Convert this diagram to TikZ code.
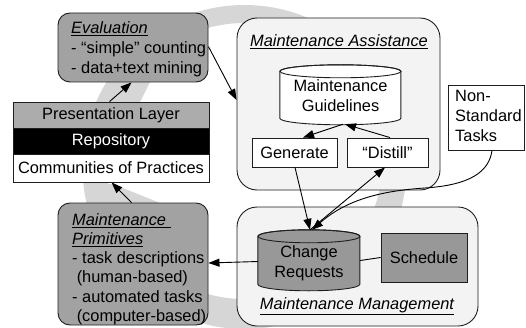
\documentclass[tikz,border=0pt]{standalone}
\usepackage{fontspec}
\setmainfont{Liberation Sans}
\usetikzlibrary{arrows.meta,calc}
\definecolor{ringgray}{RGB}{214,214,214}
\definecolor{panelfill}{RGB}{243,243,243}
\definecolor{darkfill}{RGB}{162,162,162}
\definecolor{layerfill}{RGB}{172,172,172}
\definecolor{storefill}{RGB}{152,152,152}
\definecolor{edge}{RGB}{30,30,30}
\begin{document}
\begin{tikzpicture}[x=1pt,y=1pt,
  txt/.style={font=\fontsize{16.4}{20}\selectfont, inner sep=0pt},
  infobox/.style={draw=edge, line width=0.9pt, fill=darkfill, rounded corners=12pt},
  panel/.style={draw=edge, line width=0.9pt, fill=panelfill, rounded corners=20pt},
  plainbox/.style={draw=edge, line width=0.9pt, fill=white},
  layer/.style={draw=edge, line width=0.9pt, minimum width=196pt, inner sep=0pt, font=\fontsize{16.4}{20}\selectfont},
  arr/.style={line width=0.9pt, -{Triangle[length=11pt,width=8pt]}},
  link/.style={line width=0.9pt}
]
\useasboundingbox (0,0) rectangle (526,327);

% background cycle band
\fill[ringgray, even odd rule] (244.5,160) circle (162) (244.5,166) circle (138);
\fill[ringgray] (97,225) -- (140,225) -- (150,245) -- (110,245) -- cycle;
\fill[ringgray] (87,143) -- (113,143) -- (165,122) -- (86,117) -- cycle;

% evaluation
\node[infobox, minimum width=150pt, minimum height=69pt] (eval) at (133,279.5) {};
\node[txt, anchor=west, align=left] (evaltext) at (71,278)
  {\underline{\itshape Evaluation}\\- “simple” counting\\- data+text mining};

% repository stack
\node[layer, fill=layerfill, minimum height=26pt] (pres) at (111,212) {Presentation Layer};
\node[layer, fill=black, text=white, minimum height=26pt] (repo) at (111,186) {Repository};
\node[layer, fill=white, minimum height=28pt] (comm) at (111,159) {Communities of Practices};

% maintenance primitives
\node[infobox, minimum width=150pt, minimum height=122pt] (prim) at (133,63) {};
\node[txt, anchor=west, align=left, font=\fontsize{16.4}{19.2}\selectfont] (primtext) at (72,58)
  {\underline{\itshape Maintenance\ }\\\underline{\itshape Primitives}\\- task descriptions\\\ (human-based)\\- automated tasks\\\ (computer-based)};

% maintenance assistance
\node[panel, minimum width=203pt, minimum height=172pt] (assist) at (338.5,223) {};
\node[txt] (assisttitle) at (339,285) {\underline{\itshape Maintenance Assistance}};

\node[minimum width=121pt, minimum height=60pt, inner sep=0pt] (guide) at (340.5,232) {};
\filldraw[draw=edge, line width=0.9pt, fill=white]
  (guide.north west) ++(0,-6.5) -- ++(0,-47)
  arc[start angle=180, end angle=360, x radius=60.5, y radius=6.5] -- ++(0,47)
  arc[start angle=0, end angle=180, x radius=60.5, y radius=6.5] -- cycle;
\draw[edge, line width=0.9pt] ($(guide.north)+(0,-6.5)$) ellipse[x radius=60.5, y radius=6.5];
\node[txt, align=center] at (340.5,231) {Maintenance\\Guidelines};

\node[plainbox, txt, minimum width=85pt, minimum height=29pt] (gen) at (294.5,174.5) {Generate};
\node[plainbox, txt, minimum width=81pt, minimum height=29pt] (distill) at (387.5,174.5) {“Distill”};

% non-standard tasks
\node[plainbox, minimum width=76pt, minimum height=65pt] (nonstd) at (486,209.5) {};
\node[txt, anchor=west, align=left] at (455,211) {Non-\\Standard\\Tasks};

% maintenance management
\node[panel, minimum width=241pt, minimum height=119pt] (mgmt) at (357.5,60.5) {};
\node[txt] (mgmttitle) at (357,21) {\underline{\itshape Maintenance Management}};

\node[minimum width=102pt, minimum height=61pt, inner sep=0pt] (cr) at (309,66.5) {};
\filldraw[draw=edge, line width=0.9pt, fill=storefill]
  (cr.north west) ++(0,-6.5) -- ++(0,-48)
  arc[start angle=180, end angle=360, x radius=51, y radius=6.5] -- ++(0,48)
  arc[start angle=0, end angle=180, x radius=51, y radius=6.5] -- cycle;
\draw[edge, line width=0.9pt] ($(cr.north)+(0,-6.5)$) ellipse[x radius=51, y radius=6.5];
\node[txt, align=center] at (309,64) {Change\\Requests};

\node[draw=edge, line width=0.9pt, fill=storefill, txt, minimum width=86pt, minimum height=49pt] (sched) at (424,69.5) {Schedule};

% connectors
\draw[arr] ($(pres.north west)+(97,0)$) -- ($(eval.south west)+(74,0)$);
\draw[arr] ($(prim.north west)+(74,0)$) -- ($(comm.south west)+(99,0)$);
\draw[arr] ($(cr.west)+(0,-1)$) -- ($(prim.east)+(0,1)$);
\draw[arr] ($(eval.north east)+(0,-34)$) -- ($(assist.west)+(0,4)$);
\draw[arr] ($(guide.south)+(2.5,1)$) -- ($(gen.north)+(8.5,0)$);
\draw[arr] ($(distill.north)+(2.5,0)$) -- ($(guide.south)+(4.5,1)$);
\draw[arr] ($(gen.south)+(0.5,0)$) -- ($(cr.north)+(1,0)$);
\draw[arr] ($(cr.north)+(1,0)$) -- ($(distill.south)+(-2.5,0)$);
\draw[arr] ($(nonstd.south)+(6,0)$) .. controls (489,155) and (470,142) .. (425,139)
  .. controls (378,136) and (345,126) .. ($(cr.north)+(3,0)$);
\draw[link] (cr.east) -- (sched.west);
\end{tikzpicture}
\end{document}
